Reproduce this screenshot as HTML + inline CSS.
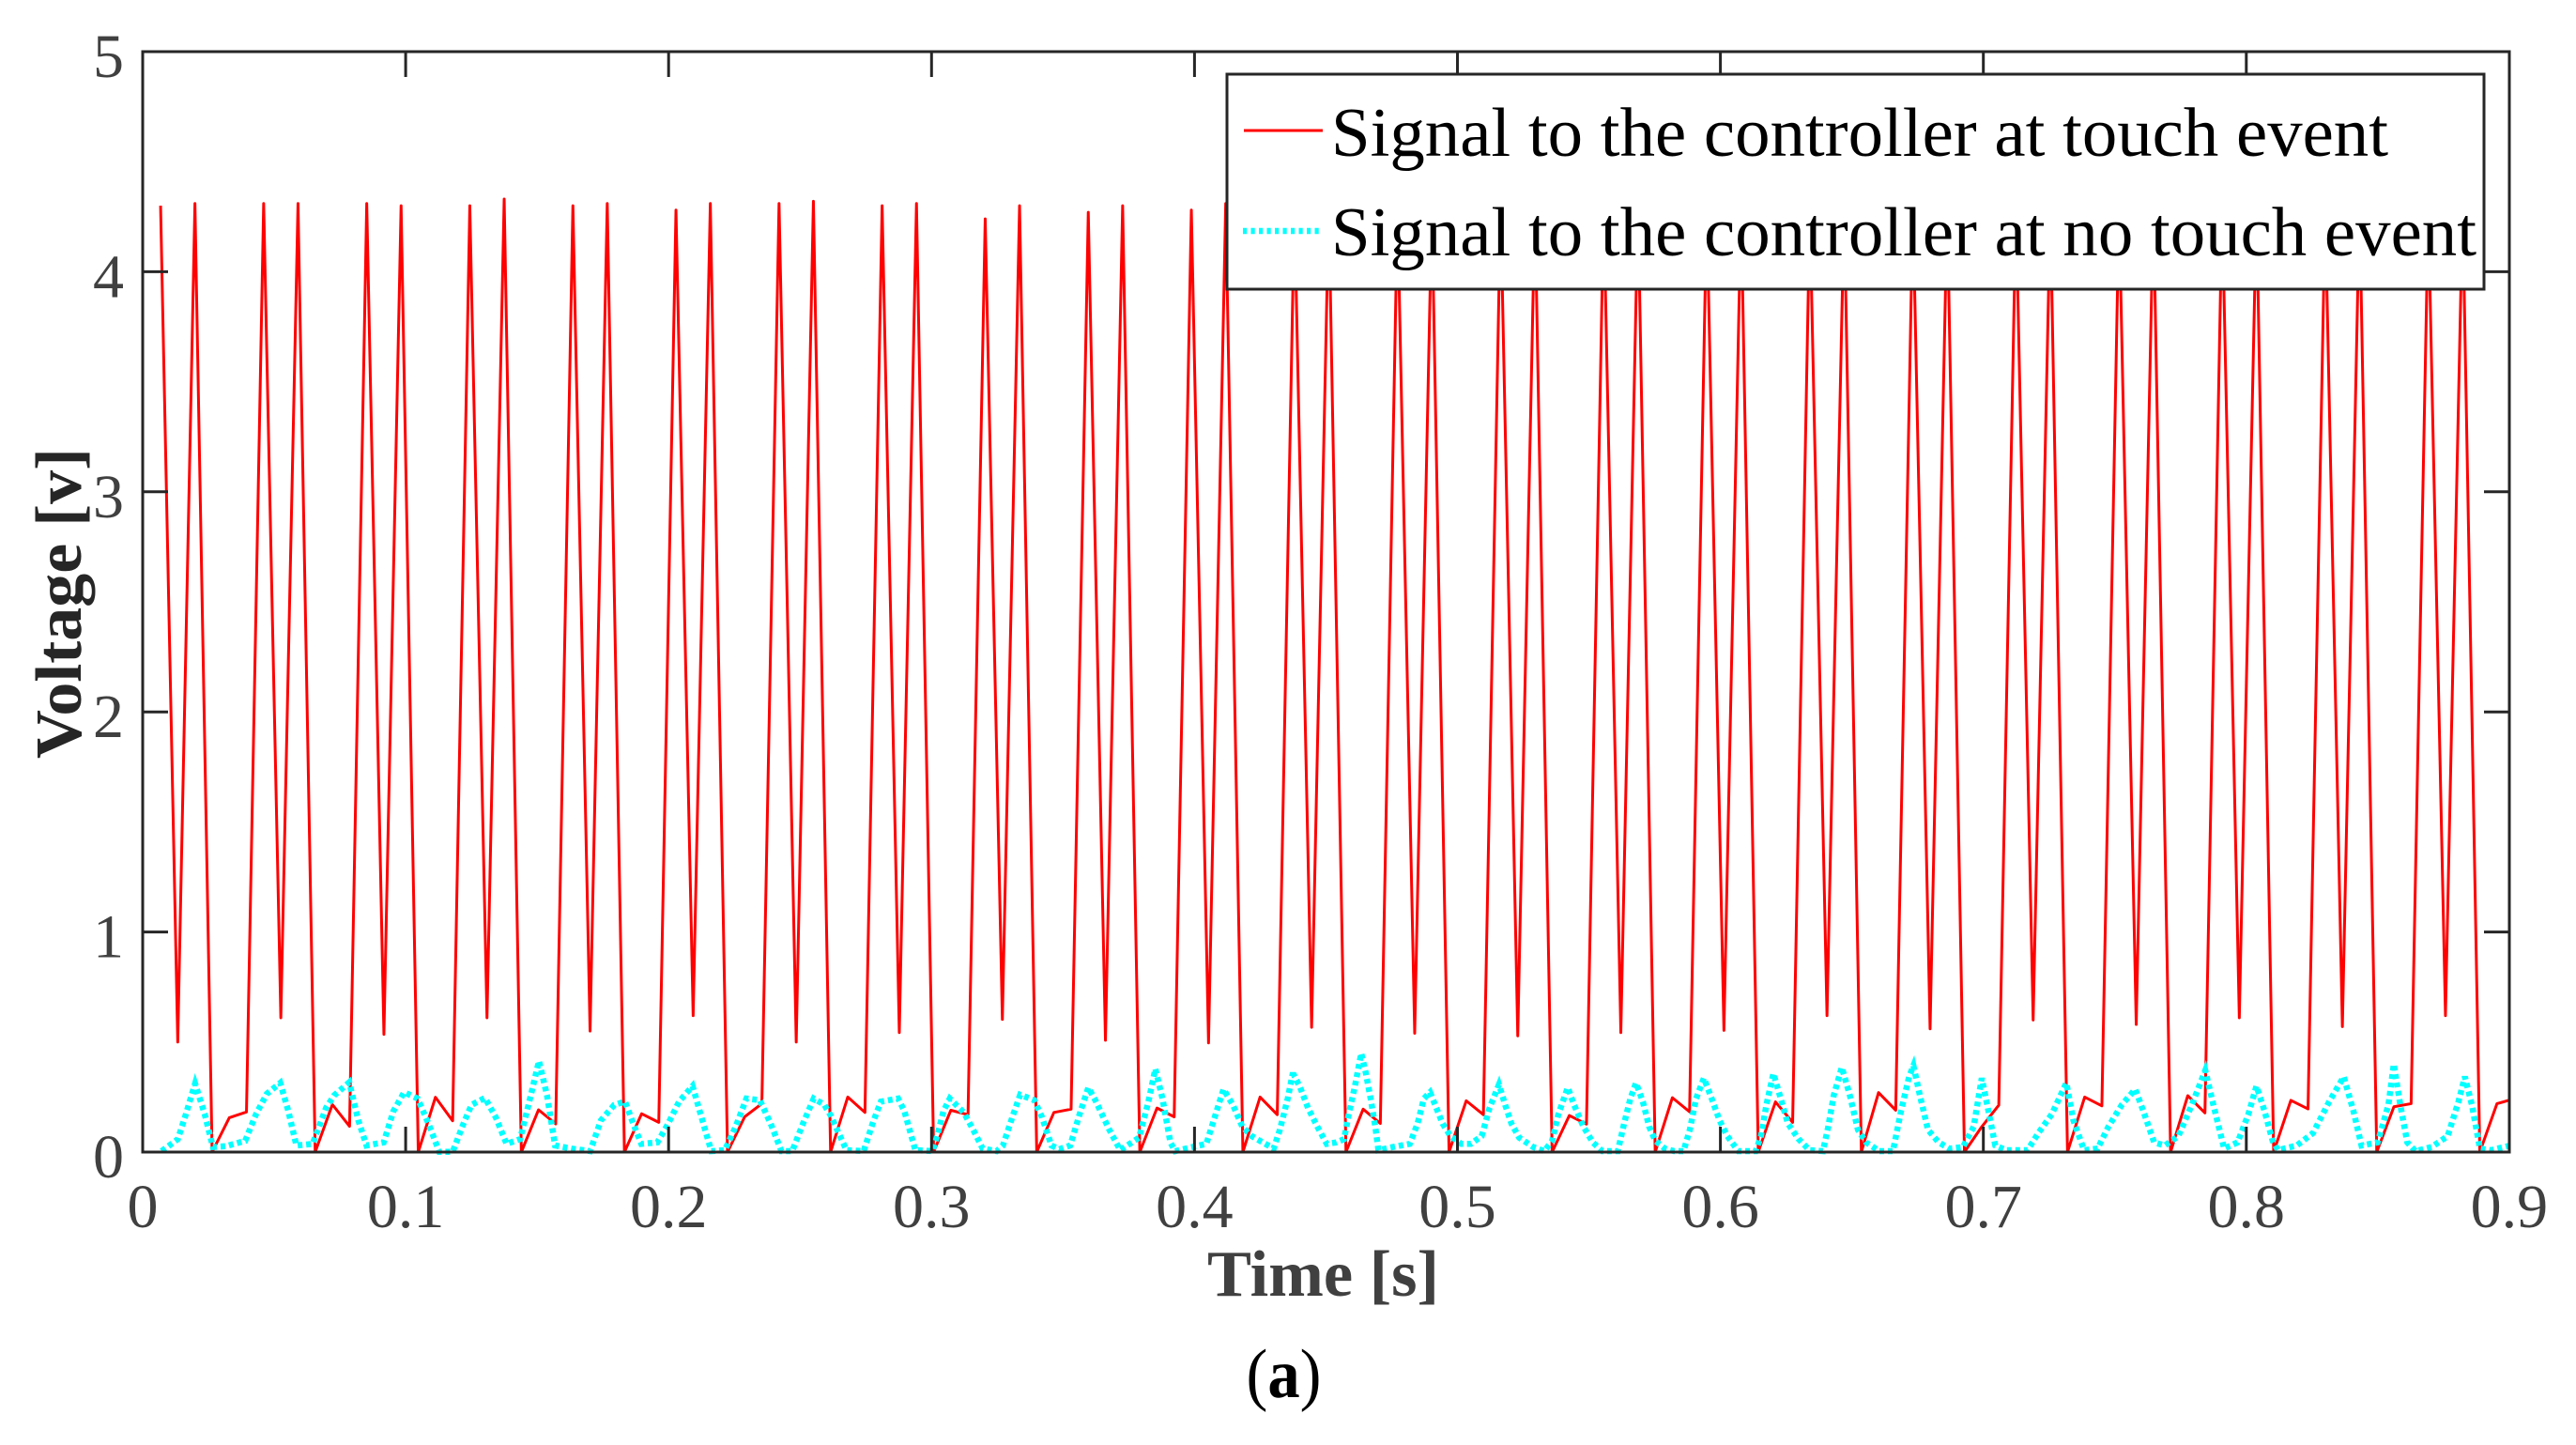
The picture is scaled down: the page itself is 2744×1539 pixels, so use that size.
<!DOCTYPE html>
<html>
<head>
<meta charset="utf-8">
<style>
  html, body { margin: 0; padding: 0; background: #ffffff; }
  svg { display: block; }
</style>
</head>
<body>
<svg xmlns="http://www.w3.org/2000/svg" width="2744" height="1539" viewBox="0 0 2744 1539">
  <rect x="0" y="0" width="2744" height="1539" fill="#ffffff"/>
  <defs>
    <clipPath id="plotclip">
      <rect x="152" y="55" width="2521" height="1177"/>
    </clipPath>
  </defs>

  <!-- data -->
  <g clip-path="url(#plotclip)">
    <g transform="translate(171.05,1227) scale(18.30,-234.4)">
      <polyline fill="none" stroke="#ff0000" stroke-width="3" stroke-linejoin="round" vector-effect="non-scaling-stroke"
        points="0,4.30 1,0.50 2,4.31 3,0 4,0.156 5,0.182
6,4.31 7,0.61 8,4.31 9,0 10,0.216 11,0.117
12,4.31 13,0.535 14,4.30 15,0 16,0.249 17,0.142
18,4.30 19,0.61 20,4.33 21,0 22,0.192 23,0.128
24,4.30 25,0.55 26,4.31 27,0 28,0.174 29,0.135
30,4.28 31,0.62 32,4.31 33,0 34,0.16 35,0.22
36,4.31 37,0.50 38,4.32 39,0 40,0.25 41,0.18
42,4.30 43,0.543 44,4.31 45,0 46,0.19 47,0.17
48,4.24 49,0.603 50,4.30 51,0 52,0.18 53,0.195
54,4.27 55,0.508 56,4.30 57,0 58,0.20 59,0.16
60,4.28 61,0.496 62,4.31 63,0 64,0.25 65,0.17
66,4.30 67,0.567 68,4.31 69,0 70,0.195 71,0.13
72,4.29 73,0.54 74,4.30 75,0 76,0.233 77,0.17
78,4.31 79,0.528 80,4.30 81,0 82,0.166 83,0.127
84,4.30 85,0.543 86,4.31 87,0 88,0.247 89,0.183
90,4.30 91,0.553 92,4.30 93,0 94,0.228 95,0.135
96,4.28 97,0.62 98,4.30 99,0 100,0.27 101,0.19
102,4.30 103,0.56 104,4.30 105,0 106,0.114 107,0.213
108,4.30 109,0.60 110,4.29 111,0 112,0.25 113,0.21
114,4.29 115,0.58 116,4.30 117,0 118,0.256 119,0.178
120,4.30 121,0.61 122,4.30 123,0 124,0.235 125,0.196
126,4.29 127,0.57 128,4.31 129,0 130,0.206 131,0.22
132,4.28 133,0.62 134,4.30 135,0 136,0.22 137,0.242"/>
    </g>

    <polyline fill="none" stroke="#00ffff" stroke-width="6.5" stroke-dasharray="5 4" stroke-linejoin="miter"
      points="172.2,1226 189.4,1213.3 198.0,1186.7 207.8,1154 218.1,1186.7 226.8,1221.7 241.1,1220.7 261.2,1215 272.7,1186.7 284.2,1165 298.5,1153.3 307.1,1183.3 315.7,1220 333.0,1218.3 347.3,1180 355.9,1166.7 372.0,1152.7 381.7,1193.3 390.4,1220 408.7,1216.7 419.1,1183.3 430.5,1163.3 444.9,1170 456.4,1196.7 467.9,1226.7 482.2,1226.7 493.7,1196.7 502.3,1176.7 516.6,1169.3 528.1,1190 539.6,1218.3 554.0,1213.3 565.4,1166.7 574.1,1130 582.7,1166.7 591.3,1220 608.5,1223.3 628.6,1226 640.1,1193.3 654.4,1176.7 665.9,1173.3 674.5,1196.7 683.1,1218.3 700.3,1216.7 711.8,1196.7 723.3,1173.3 737.7,1156.7 746.3,1186.7 757.7,1226 772.1,1225 783.6,1200 795.1,1170 809.4,1171.7 820.9,1196.7 832.4,1226 843.9,1226 855.3,1196.7 866.8,1170 878.3,1176.7
880,1180 885,1188.3 891.7,1203.3 901.7,1225 920,1226 930,1195 938.3,1173.3 956.7,1170 963.3,1183.3 975,1225 993.3,1226 998.3,1210 1005,1183.3 1011.7,1170 1026.7,1185 1036.7,1203.3 1046.7,1223.3 1061.7,1226 1068.3,1220 1078.3,1190 1086.7,1166 1101.7,1171.7 1110,1190 1120,1220 1128.3,1224 1140,1220 1150,1186.7 1159.3,1158.3 1166.7,1171.7 1181.7,1203.3 1193.3,1225 1203.3,1218.3 1213.3,1211.7 1223.3,1173.3 1230.7,1138.3 1238.3,1170 1246.7,1216.7 1251.7,1226 1270,1221.7 1285,1218.3 1303.3,1160 1313.3,1176.7 1323.3,1200 1333.3,1210 1356.7,1223.3 1363.3,1203.3 1371.7,1170 1376.7,1145
1378.3,1145 1385,1158.3 1393.3,1180 1403.3,1200 1413.3,1218.3 1423.3,1216.7 1431.7,1213.3 1436.7,1186.7 1443.3,1156.7 1450,1121.7 1455,1143.3 1460,1170 1465,1200 1468.3,1225 1483.3,1221.7 1501.7,1218.3 1510,1196.7 1516.7,1170 1523.3,1163.3 1530,1180 1536.7,1196.7 1545,1210 1556.7,1218.3 1566.7,1218.3 1578.3,1210 1586.7,1180 1596.7,1155 1603.3,1176.7 1610,1196.7 1618.3,1211.7 1633.3,1221.7 1645,1226 1653.3,1215 1660,1186.7 1670,1158.3 1676.7,1176.7 1686.7,1200 1696.7,1216.7 1706.7,1226 1723.3,1226 1730,1196.7 1736.7,1170 1742.7,1153.3 1750,1173.3 1756.7,1200 1763.3,1215 1773.3,1223.3 1783.3,1226 1793.3,1226 1800,1203.3 1806.7,1170 1815,1148.3 1823.3,1170 1831.7,1193.3 1840,1210 1851.7,1226 1866.7,1226
1870.1,1226 1875.8,1210 1881.6,1176.7 1889.0,1143.3 1895.9,1166.7 1904.5,1196.7 1916.0,1213.3 1927.5,1225 1941.8,1226 1947.5,1200 1953.3,1166.7 1961.9,1136.7 1970.5,1166.7 1979.1,1203.3 1987.7,1216.7 2002.0,1226 2016.4,1226 2025.0,1183.3 2033.6,1146.7 2038.2,1135 2045.1,1166.7 2053.7,1203.3 2065.1,1216.7 2076.6,1223.3 2091.0,1221.7 2102.4,1200 2111.0,1148.3 2116.8,1176.7 2125.4,1220 2136.9,1225 2159.8,1225 2171.3,1206.7 2185.6,1186.7 2201.1,1153.3 2208.6,1193.3 2220.0,1225 2234.4,1223.3 2245.9,1200 2260.2,1176.7 2274.5,1160 2283.1,1183.3 2294.6,1216.7 2306.1,1220 2320.4,1210 2334.8,1176.7 2349.1,1140 2357.7,1176.7 2369.2,1223.3 2383.5,1216.7 2395.0,1186.7 2403.6,1156.7 2412.2,1183.3 2420.8,1215 2426.6,1225 2446.6,1220 2463.9,1206.7 2481.1,1173.3 2496.6,1146.7 2506.9,1183.3 2515.5,1220 2532.7,1216.7 2544.2,1176.7 2549.9,1133.3 2556.8,1176.7 2564.3,1216.7 2572.9,1226 2590.1,1221.7 2607.3,1210 2618.8,1173.3 2625.6,1146.7 2633.1,1176.7 2641.7,1223.3 2653.2,1225 2674.4,1220"/>
  </g>

  <!-- axes box -->
  <rect x="152" y="55" width="2521" height="1172" fill="none" stroke="#262626" stroke-width="3"/>

  <!-- ticks -->
  <g stroke="#262626" stroke-width="3">
    <line x1="432.1" y1="1227" x2="432.1" y2="1200"/>
    <line x1="712.2" y1="1227" x2="712.2" y2="1200"/>
    <line x1="992.3" y1="1227" x2="992.3" y2="1200"/>
    <line x1="1272.4" y1="1227" x2="1272.4" y2="1200"/>
    <line x1="1552.5" y1="1227" x2="1552.5" y2="1200"/>
    <line x1="1832.6" y1="1227" x2="1832.6" y2="1200"/>
    <line x1="2112.7" y1="1227" x2="2112.7" y2="1200"/>
    <line x1="2392.8" y1="1227" x2="2392.8" y2="1200"/>
    <line x1="432.1" y1="55" x2="432.1" y2="82"/>
    <line x1="712.2" y1="55" x2="712.2" y2="82"/>
    <line x1="992.3" y1="55" x2="992.3" y2="82"/>
    <line x1="1272.4" y1="55" x2="1272.4" y2="82"/>
    <line x1="1552.5" y1="55" x2="1552.5" y2="82"/>
    <line x1="1832.6" y1="55" x2="1832.6" y2="82"/>
    <line x1="2112.7" y1="55" x2="2112.7" y2="82"/>
    <line x1="2392.8" y1="55" x2="2392.8" y2="82"/>
    <line x1="152" y1="992.6" x2="179" y2="992.6"/>
    <line x1="152" y1="758.2" x2="179" y2="758.2"/>
    <line x1="152" y1="523.8" x2="179" y2="523.8"/>
    <line x1="152" y1="289.4" x2="179" y2="289.4"/>
    <line x1="2673" y1="992.6" x2="2646" y2="992.6"/>
    <line x1="2673" y1="758.2" x2="2646" y2="758.2"/>
    <line x1="2673" y1="523.8" x2="2646" y2="523.8"/>
    <line x1="2673" y1="289.4" x2="2646" y2="289.4"/>
  </g>

  <!-- tick labels -->
  <g font-family="'Liberation Serif', serif" font-size="66" fill="#404040">
    <g text-anchor="end">
      <text x="132" y="1254">0</text>
      <text x="132" y="1019.6">1</text>
      <text x="132" y="785.2">2</text>
      <text x="132" y="550.8">3</text>
      <text x="132" y="316.4">4</text>
      <text x="132" y="82">5</text>
    </g>
    <g text-anchor="middle">
      <text x="152" y="1307">0</text>
      <text x="432.1" y="1307">0.1</text>
      <text x="712.2" y="1307">0.2</text>
      <text x="992.3" y="1307">0.3</text>
      <text x="1272.4" y="1307">0.4</text>
      <text x="1552.5" y="1307">0.5</text>
      <text x="1832.6" y="1307">0.6</text>
      <text x="2112.7" y="1307">0.7</text>
      <text x="2392.8" y="1307">0.8</text>
      <text x="2672.9" y="1307">0.9</text>
    </g>
  </g>

  <!-- axis labels -->
  <text x="1409.5" y="1380" text-anchor="middle" font-family="'Liberation Serif', serif" font-weight="bold" font-size="70" fill="#404040" textLength="247" lengthAdjust="spacingAndGlyphs">Time [s]</text>
  <text transform="translate(86,642.5) rotate(-90)" x="0" y="0" text-anchor="middle" font-family="'Liberation Serif', serif" font-weight="bold" font-size="70" fill="#262626" textLength="331" lengthAdjust="spacingAndGlyphs">Voltage [v]</text>

  <!-- legend -->
  <rect x="1307" y="79" width="1339" height="229" fill="#ffffff" stroke="#262626" stroke-width="3"/>
  <line x1="1325" y1="139" x2="1409" y2="139" stroke="#ff0000" stroke-width="3"/>
  <line x1="1324" y1="246" x2="1406" y2="246" stroke="#00ffff" stroke-width="6.5" stroke-dasharray="4.2 4.3"/>
  <g font-family="'Liberation Serif', serif" font-size="74" fill="#000000">
    <text x="1418" y="166" textLength="1126" lengthAdjust="spacingAndGlyphs">Signal to the controller at touch event</text>
    <text x="1418" y="272" textLength="1220" lengthAdjust="spacingAndGlyphs">Signal to the controller at no touch event</text>
  </g>

  <!-- caption -->
  <text x="1367.5" y="1488" text-anchor="middle" font-family="'Liberation Serif', serif" font-size="74" fill="#000000" textLength="80" lengthAdjust="spacingAndGlyphs">(<tspan font-weight="bold">a</tspan>)</text>
</svg>
</body>
</html>
